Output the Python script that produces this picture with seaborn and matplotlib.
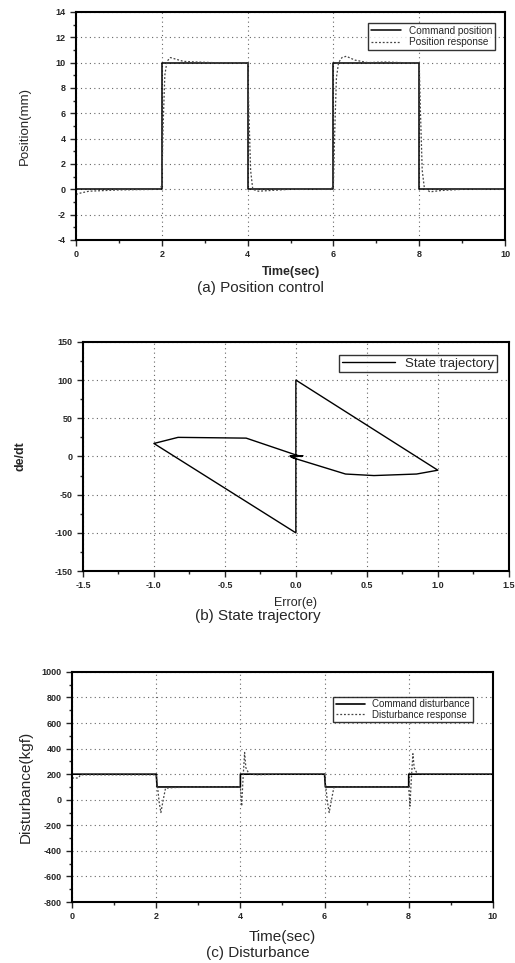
import numpy as np
import pandas as pd
import matplotlib
matplotlib.use("Agg")
import matplotlib.pyplot as plt
import seaborn as sns
from matplotlib.ticker import MultipleLocator, FormatStrFormatter

# ---------------- data ----------------
# (a) Position control
cmd_pos_t = [0, 2.0, 2.0, 4.0, 4.0, 6.0, 6.0, 8.0, 8.0, 10.0]
cmd_pos_y = [0, 0, 10, 10, 0, 0, 10, 10, 0, 0]
resp_pos_t = [0, 0.1, 0.3, 1.0, 1.95, 2.0, 2.03, 2.07, 2.12, 2.2, 2.3, 2.5, 2.8, 3.2, 3.6, 4.0,
              4.03, 4.07, 4.12, 4.25, 4.5, 5.0, 5.95, 6.0, 6.03, 6.07, 6.12, 6.2, 6.3, 6.5, 6.8,
              7.2, 7.6, 8.0, 8.03, 8.07, 8.12, 8.25, 8.5, 9.0, 10.0]
resp_pos_y = [-0.4, -0.3, -0.15, -0.05, 0, 0.3, 5.0, 9.0, 10.1, 10.4, 10.3, 10.1, 10.05, 10.0, 10.0, 10.0,
              6.0, 1.5, 0.0, -0.15, -0.1, 0.0, 0.0, 0.3, 4.5, 8.8, 10.0, 10.4, 10.5, 10.2, 10.0,
              10.05, 10.0, 10.0, 6.0, 1.5, 0.1, -0.2, -0.1, 0.0, 0.0]

# (b) State trajectory (error, de/dt) path
traj_e = [0.0, 0.0, 1.0, 0.85, 0.55, 0.35, 0.0, -0.04, 0.05, -0.03, 0.0, 0.0, -1.0, -0.83, -0.35, 0.0, 0.04, -0.04, 0.0]
traj_de = [0.0, 100.0, -18.0, -23.0, -25.0, -23.0, -3.0, 0.0, 1.0, -1.0, -3.0, -100.0, 17.0, 25.0, 24.0, 2.0, 0.0, 1.0, 0.0]

# (c) Disturbance
cmd_dist_t = [0, 2.0, 2.02, 4.0, 4.0, 6.0, 6.02, 8.0, 8.0, 10.0]
cmd_dist_y = [200, 200, 100, 100, 200, 200, 100, 100, 200, 200]
resp_dist_t = [0, 0.15, 0.2, 1.0, 2.0, 2.03, 2.07, 2.11, 2.16, 2.22, 2.4, 3.0, 4.0, 4.03, 4.06, 4.1,
               4.13, 4.2, 4.35, 5.0, 6.0, 6.03, 6.07, 6.11, 6.16, 6.22, 6.4, 7.0, 8.0, 8.03, 8.06,
               8.1, 8.13, 8.2, 8.35, 10.0]
resp_dist_y = [170, 170, 195, 195, 195, 100, -20, -100, -10, 90, 95, 100, 100, -50, 150, 370,
               250, 205, 195, 200, 200, 100, -20, -100, -10, 95, 100, 100, 100, -50, 150,
               360, 250, 205, 200, 200]

# ---------------- style ----------------
sns.set_style("ticks")
plt.rcParams['font.family'] = ['Liberation Sans', 'DejaVu Sans']
plt.rcParams['axes.linewidth'] = 1.5
plt.rcParams['axes.unicode_minus'] = False

fig = plt.figure(figsize=(5.15, 9.63), dpi=100)

def style_axes(ax, xlim, ylim, xmaj, xmin, ymaj, ymin, tick_fs=6.5):
    ax.set_xlim(*xlim)
    ax.set_ylim(*ylim)
    ax.xaxis.set_major_locator(MultipleLocator(xmaj))
    ax.xaxis.set_minor_locator(MultipleLocator(xmin))
    ax.yaxis.set_major_locator(MultipleLocator(ymaj))
    ax.yaxis.set_minor_locator(MultipleLocator(ymin))
    ax.grid(True, which='major', linestyle=(0, (1, 3)), color='#666666', linewidth=0.8)
    ax.tick_params(which='major', direction='out', length=4, width=1, labelsize=tick_fs)
    ax.tick_params(which='minor', direction='out', length=2.5, width=1)
    for lab in ax.get_xticklabels() + ax.get_yticklabels():
        lab.set_fontweight('bold')
    for sp in ax.spines.values():
        sp.set_visible(True)
        sp.set_color('black')

# (a)
ax1 = fig.add_axes([0.1476, 0.7508, 0.833, 0.2368])
sns.lineplot(x=cmd_pos_t, y=cmd_pos_y, ax=ax1, color='black', linewidth=1.1,
             sort=False, estimator=None, label='Command position')
sns.lineplot(x=resp_pos_t, y=resp_pos_y, ax=ax1, color='#444444', linewidth=0.9,
             linestyle=(0, (1.5, 1.5)), sort=False, estimator=None, label='Position response')
style_axes(ax1, (0, 10), (-4, 14), 2, 1, 2, 1)
ax1.set_xlabel('Time(sec)', fontsize=9, fontweight='bold', labelpad=5)
ax1.set_ylabel('Position(mm)', fontsize=9.5, labelpad=18)
leg = ax1.legend(loc='upper right', fontsize=7.2, frameon=True, fancybox=False,
                 edgecolor='black', handlelength=3.0, borderpad=0.3, labelspacing=0.15,
                 borderaxespad=0, bbox_to_anchor=(0.977, 0.952))
leg.get_frame().set_linewidth(1.0)
fig.text(0.505, 1 - 288 / 963, '(a) Position control', ha='center', va='center', fontsize=11)

# (b)
ax2 = fig.add_axes([0.161, 0.407, 0.827, 0.238])
sns.lineplot(x=traj_e, y=traj_de, ax=ax2, color='black', linewidth=1.0,
             sort=False, estimator=None, label='State trajectory')
style_axes(ax2, (-1.5, 1.5), (-150, 150), 0.5, 0.25, 50, 25)
ax2.xaxis.set_major_formatter(FormatStrFormatter('%.1f'))
ax2.set_xlabel('Error(e)', fontsize=9, labelpad=5)
ax2.set_ylabel('de/dt', fontsize=9, fontweight='bold', labelpad=20)
leg = ax2.legend(loc='upper right', fontsize=9.5, frameon=True, fancybox=False,
                 edgecolor='black', handlelength=4.0, borderpad=0.2,
                 borderaxespad=0, bbox_to_anchor=(0.972, 0.943))
leg.get_frame().set_linewidth(1.0)
fig.text(0.5, 1 - 616 / 963, '(b) State trajectory', ha='center', va='center', fontsize=11)

# (c)
ax3 = fig.add_axes([0.140, 0.0633, 0.817, 0.239])
sns.lineplot(x=cmd_dist_t, y=cmd_dist_y, ax=ax3, color='black', linewidth=1.2,
             sort=False, estimator=None, label='Command disturbance')
sns.lineplot(x=resp_dist_t, y=resp_dist_y, ax=ax3, color='#444444', linewidth=0.9,
             linestyle=(0, (1.5, 1.5)), sort=False, estimator=None, label='Disturbance response')
style_axes(ax3, (0, 10), (-800, 1000), 2, 1, 200, 100)
ax3.set_xlabel('Time(sec)', fontsize=11, labelpad=6)
ax3.set_ylabel('Disturbance(kgf)', fontsize=11, labelpad=6)
leg = ax3.legend(loc='upper right', fontsize=7, frameon=True, fancybox=False,
                 edgecolor='black', handlelength=3.0, borderpad=0.25, labelspacing=0.05,
                 borderaxespad=0, bbox_to_anchor=(0.952, 0.891))
leg.get_frame().set_linewidth(1.0)
fig.text(0.5, 1 - 953 / 963, '(c) Disturbance', ha='center', va='center', fontsize=11)

fig.savefig('out.png', dpi=100)
